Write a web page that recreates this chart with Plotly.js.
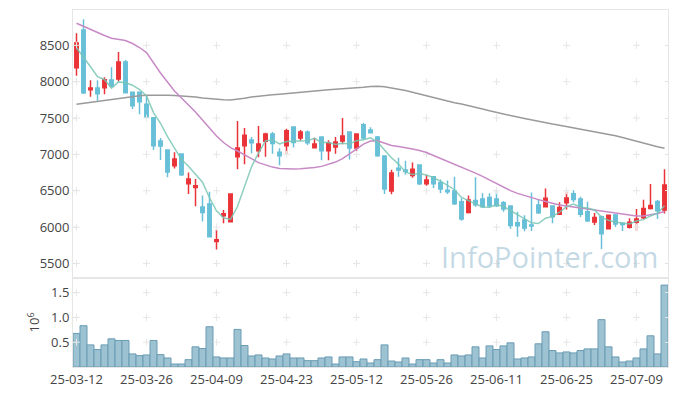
<!DOCTYPE html>
<html>
<head>
<meta charset="utf-8">
<script src="https://cdn.plot.ly/plotly-3.0.1.min.js"></script>
<style>html,body{margin:0;padding:0;background:#fff;}#chart{width:677px;height:396px;}</style>
</head>
<body>
<div id="chart"></div>
<script>
var dates = ["25-03-12","25-03-13","25-03-14","25-03-17","25-03-18","25-03-19","25-03-20","25-03-21","25-03-24","25-03-25",
"25-03-26","25-03-27","25-03-28","25-03-31","25-04-01","25-04-02","25-04-03","25-04-04","25-04-07","25-04-08",
"25-04-09","25-04-10","25-04-11","25-04-14","25-04-15","25-04-16","25-04-17","25-04-18","25-04-21","25-04-22",
"25-04-23","25-04-24","25-04-25","25-04-28","25-04-29","25-04-30","25-05-02","25-05-07","25-05-08","25-05-09",
"25-05-12","25-05-13","25-05-14","25-05-15","25-05-16","25-05-19","25-05-20","25-05-21","25-05-22","25-05-23",
"25-05-26","25-05-27","25-05-28","25-05-29","25-05-30","25-06-02","25-06-04","25-06-05","25-06-09","25-06-10",
"25-06-11","25-06-12","25-06-13","25-06-16","25-06-17","25-06-18","25-06-19","25-06-20","25-06-23","25-06-24",
"25-06-25","25-06-26","25-06-27","25-06-30","25-07-01","25-07-02","25-07-03","25-07-04","25-07-07","25-07-08",
"25-07-09","25-07-10","25-07-11","25-07-14","25-07-15"];

var openP = [8192,8711,7889,7912,7917,8023,8036,8270,7853,7853,7688,7504,7183,7059,6843,7004,6596,6546,6275,6316,
5803,6155,6073,6967,7119,7197,7050,7179,7279,7028,7119,7376,7224,7307,7091,7238,7050,7101,7183,7307,
7087,7407,7334,7238,6977,6495,6808,6784,6711,6853,6596,6692,6609,6505,6495,6348,6202,6367,6385,6408,
6385,6334,6289,6059,6096,6027,6303,6279,6289,6175,6334,6458,6385,6210,6069,6142,5976,6165,6051,5996,
6065,6128,6257,6353,6234];

var highP = [8665,8858,8018,8018,8060,8197,8408,8298,7860,7860,7816,7510,7224,7069,7028,7010,6752,6660,6436,6486,
5968,6234,6460,7458,7362,7238,7390,7297,7307,7083,7353,7380,7334,7330,7229,7240,7193,7238,7500,7310,
7285,7431,7372,7252,6980,6788,6953,6912,6890,6856,6715,6695,6656,6642,6692,6395,6436,6684,6464,6464,
6509,6358,6292,6210,6161,6477,6385,6532,6295,6340,6486,6505,6417,6348,6193,6155,6165,6179,6055,6120,
6247,6376,6592,6371,6794];

var lowP = [8082,7830,7793,7738,7826,7922,8005,7840,7623,7551,7509,7059,6922,6684,6807,6702,6454,6285,6078,5860,
5693,6051,6069,6794,6863,7014,6959,6967,7008,6849,7000,7096,7187,7128,7083,6918,6918,7008,7138,6931,
7050,7197,7289,6967,6454,6450,6692,6720,6678,6578,6568,6536,6464,6454,6303,6087,6188,6279,6265,6265,
6275,6210,5976,5866,5941,5945,6179,6271,6051,6165,6243,6340,6137,6069,6027,5697,5972,6000,5945,5982,
5954,6110,6243,6110,6188];

var closeP = [8532,7848,7912,7834,8027,7940,8270,7848,7669,7724,7513,7119,7114,6757,6935,6719,6660,6568,6202,5866,
5825,6183,6454,7087,7262,7160,7142,7279,7151,6981,7325,7165,7307,7160,7142,7050,7156,7169,7252,7087,
7279,7224,7297,6981,6523,6743,6784,6766,6794,6596,6647,6596,6523,6486,6320,6110,6371,6307,6279,6293,
6293,6247,6023,6018,5986,6014,6197,6395,6142,6271,6399,6381,6175,6087,6133,5908,6161,6041,6037,6065,
6110,6257,6298,6224,6578];

var ma5 = [8467,8343,8206,8068,8031,7912,7997,7984,7951,7890,7805,7575,7428,7245,7088,6929,6837,6728,6617,6403,
6224,6129,6106,6283,6562,6829,7021,7186,7199,7143,7176,7180,7186,7188,7220,7165,7163,7135,7154,7143,
7189,7202,7228,7174,7061,6954,6866,6759,6722,6737,6717,6680,6631,6570,6514,6407,6362,6319,6277,6272,
6309,6284,6227,6175,6113,6058,6048,6122,6147,6204,6281,6318,6274,6263,6235,6137,6093,6066,6056,6042,
6083,6102,6153,6191,6293];

var ma20 = [8803,8759,8717,8676,8635,8598,8584,8566,8525,8470,8401,8256,8119,7995,7871,7775,7679,7582,7472,7362,
7252,7163,7094,7046,6997,6942,6887,6853,6825,6805,6798,6798,6802,6808,6819,6835,6860,6894,6942,7004,
7073,7142,7183,7187,7156,7121,7107,7094,7073,7052,7025,6984,6945,6901,6860,6825,6784,6743,6697,6647,
6598,6550,6502,6464,6433,6406,6378,6351,6326,6303,6289,6275,6261,6241,6227,6213,6199,6186,6172,6158,
6151,6151,6165,6186,6213];

var ma60 = [7688,7702,7716,7729,7743,7757,7771,7782,7793,7805,7813,7816,7816,7813,7809,7805,7800,7789,7775,7764,
7754,7750,7747,7754,7771,7789,7802,7812,7819,7827,7837,7844,7851,7860,7871,7881,7889,7896,7901,7907,
7912,7922,7932,7936,7929,7915,7899,7878,7855,7830,7802,7779,7757,7734,7709,7692,7672,7647,7623,7599,
7575,7555,7534,7513,7493,7472,7454,7436,7417,7401,7383,7366,7351,7335,7317,7300,7279,7255,7231,7204,
7176,7152,7128,7105,7083];

// volume in millions of shares (axis shows 10^6)
var volumeM = [0.677,0.833,0.446,0.352,0.446,0.568,0.535,0.535,0.264,0.230,
0.243,0.535,0.250,0.182,0.060,0.060,0.148,0.406,0.372,0.812,
0.203,0.182,0.182,0.758,0.433,0.223,0.243,0.182,0.162,0.223,
0.264,0.182,0.182,0.128,0.128,0.182,0.203,0.060,0.203,0.203,
0.108,0.162,0.081,0.148,0.446,0.121,0.101,0.182,0.060,0.148,
0.148,0.081,0.148,0.081,0.243,0.223,0.243,0.406,0.182,0.426,
0.352,0.426,0.487,0.162,0.182,0.203,0.467,0.711,0.331,0.284,
0.304,0.284,0.331,0.365,0.365,0.955,0.406,0.203,0.101,0.121,
0.182,0.365,0.629,0.264,1.652];

var xTickLabels = ["25-03-12","25-03-26","25-04-09","25-04-23","25-05-12","25-05-26","25-06-11","25-06-25","25-07-09"];
var priceTicks = [5500,6000,6500,7000,7500,8000,8500];
var volTicks = [0.5,1.0,1.5];

// grid "+" marks at tick intersections (built from tick arrays)
function crossGrid(xs, ys) {
  var gx = [], gy = [];
  xs.forEach(function(x){ ys.forEach(function(y){ gx.push(x); gy.push(y); }); });
  return {x: gx, y: gy};
}
var g1 = crossGrid(xTickLabels, priceTicks);
var g2 = crossGrid(xTickLabels, volTicks);
var crossMarker = {symbol: 'cross-thin', size: 5, line: {width: 1, color: '#e6e6e6'}, color: '#e6e6e6'};

var traces = [
  {type: 'scatter', mode: 'markers', x: g1.x, y: g1.y, xaxis: 'x', yaxis: 'y', marker: crossMarker, hoverinfo: 'skip', showlegend: false},
  {type: 'scatter', mode: 'markers', x: g2.x, y: g2.y, xaxis: 'x', yaxis: 'y2', marker: crossMarker, hoverinfo: 'skip', showlegend: false},
  {type: 'candlestick', x: dates, open: openP, high: highP, low: lowP, close: closeP,
   xaxis: 'x', yaxis: 'y',
   increasing: {line: {color: '#ea3338', width: 1.5}, fillcolor: '#ea3338'},
   decreasing: {line: {color: '#68c0d8', width: 1.5}, fillcolor: '#68c0d8'},
   hoverinfo: 'skip', showlegend: false},
  {type: 'scatter', mode: 'lines', x: dates, y: ma60, xaxis: 'x', yaxis: 'y', line: {color: '#9a9a9a', width: 1.5}, hoverinfo: 'skip'},
  {type: 'scatter', mode: 'lines', x: dates, y: ma20, xaxis: 'x', yaxis: 'y', line: {color: '#c88ac6', width: 1.5}, hoverinfo: 'skip'},
  {type: 'scatter', mode: 'lines', x: dates, y: ma5, xaxis: 'x', yaxis: 'y', line: {color: 'rgba(120,198,180,0.85)', width: 1.5}, hoverinfo: 'skip'},
  {type: 'bar', x: dates, y: volumeM, xaxis: 'x', yaxis: 'y2',
   marker: {color: '#9dc2d2', line: {color: '#6a9cb4', width: 1}}, hoverinfo: 'skip'}
];

var layout = {
  width: 677, height: 396,
  margin: {l: 73, r: 9, t: 10, b: 29, pad: 0},
  paper_bgcolor: '#ffffff', plot_bgcolor: '#ffffff',
  showlegend: false,
  bargap: 0,
  font: {family: '"Open Sans", sans-serif', size: 13, color: '#444'},
  xaxis: {type: 'category', categoryorder: 'array', categoryarray: dates,
          anchor: 'y2', range: [-0.5, dates.length - 0.5],
          tickmode: 'array', tickvals: xTickLabels, ticktext: xTickLabels, tickangle: 0,
          showgrid: false, zeroline: false, showline: true, linecolor: '#e6e6e6', linewidth: 1, mirror: 'all',
          ticks: '', rangeslider: {visible: false}, fixedrange: true,
          tickfont: {size: 13, color: '#444'}},
  yaxis: {domain: [0.25, 1], range: [5303, 8986], tickmode: 'array', tickvals: priceTicks,
          showgrid: false, zeroline: false, showline: true, linecolor: '#e6e6e6', linewidth: 1, mirror: 'ticks',
          ticks: 'inside', ticklen: 3, tickcolor: '#e2e2e2', tickfont: {size: 13, color: '#444'}},
  yaxis2: {domain: [0, 0.25], range: [0, 1.8], tickmode: 'array', tickvals: volTicks, tickformat: '.1f',
          showgrid: false, zeroline: false, showline: true, linecolor: '#e6e6e6', linewidth: 1, mirror: 'ticks',
          ticks: 'inside', ticklen: 3, tickcolor: '#e2e2e2', tickfont: {size: 13, color: '#444'},
          title: {text: '10<sup>6</sup>', font: {size: 13, color: '#444'}, standoff: 8}},
  annotations: [{
    text: 'InfoPointer.com', xref: 'paper', yref: 'paper', x: 1, y: 0.25,
    xanchor: 'right', yanchor: 'bottom', xshift: -8, yshift: 0, showarrow: false,
    font: {family: '"Open Sans", sans-serif', size: 29, color: 'rgba(140,180,204,0.5)'}
  }]
};

Plotly.newPlot('chart', traces, layout, {staticPlot: true, displayModeBar: false});
</script>
</body>
</html>
